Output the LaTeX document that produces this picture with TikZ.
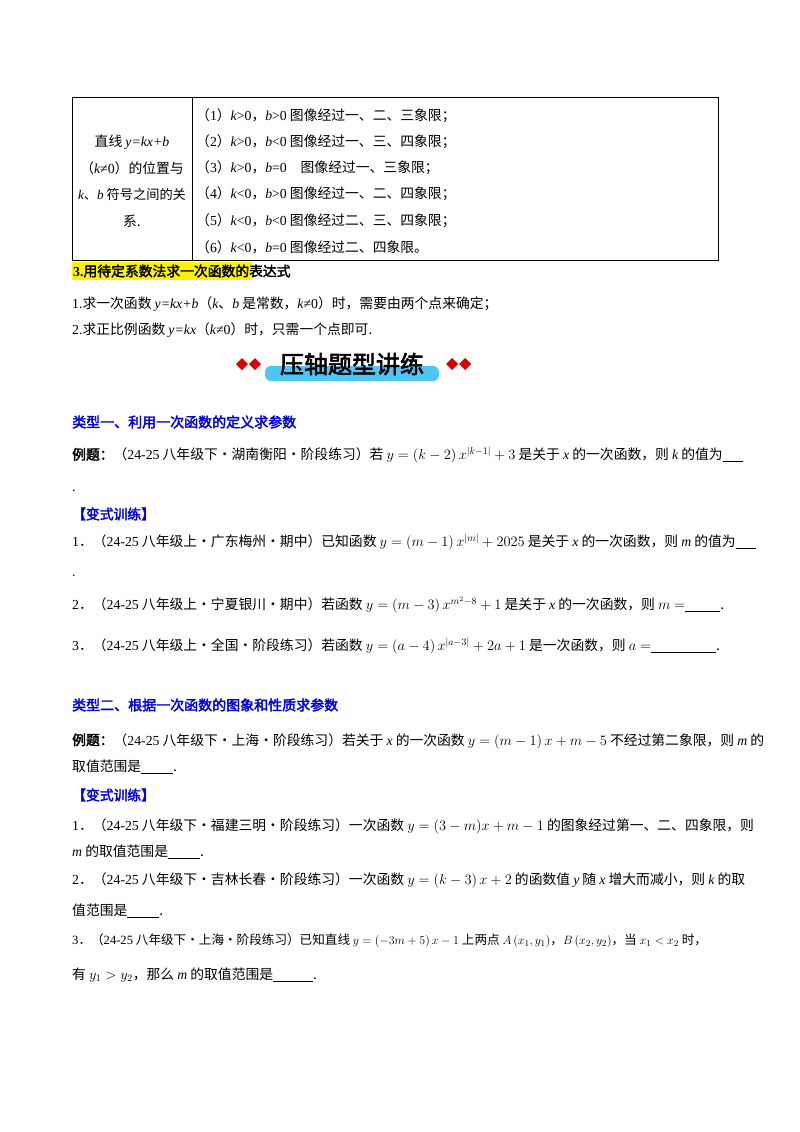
\documentclass[tikz,border=0pt]{standalone}
\usepackage{fontspec}
\setmainfont{Noto Sans CJK SC}[AutoFakeBold=2.5]
\newfontfamily\lib{Liberation Serif}
\newcommand{\Li}[1]{{\lib\itshape #1}}
\newcommand{\Ln}[1]{{\lib #1}}
\newcommand{\blank}[1]{\underline{\hspace{#1}}}
\begin{document}
\begin{tikzpicture}[x=1pt,y=-1pt,
  t/.style={anchor=west,inner sep=0pt,font=\fontsize{13.8}{15}\selectfont},
  c/.style={anchor=center,inner sep=0pt,font=\fontsize{13.8}{15}\selectfont},
  hd/.style={t,text=blue!85!black,font=\fontsize{14}{15}\selectfont\bfseries},
  vs/.style={t,text=blue!85!black,font=\fontsize{13.8}{15}\selectfont\bfseries}]
\useasboundingbox (0,0) rectangle (800,1132);
\fill[white] (0,0) rectangle (800,1132);
% table
\draw[line width=0.8pt] (72,97) rectangle (718,260);
\draw[line width=0.8pt] (192,97) -- (192,260);
\node[c] (l1) at (132,142) {直线 \Li{y=kx+b}};
\node[c] (l2) at (132,168) {（\Li{k}\Ln{≠0}）的位置与};
\node[c,font=\fontsize{13.2}{15}\selectfont] (l3) at (132,194) {\Li{k}、\Li{b} 符号之间的关};
\node[c] (l4) at (132,221) {系.};
\node[t] (r1) at (196,116) {（\Ln1）\Li{k}\Ln{>0}，\Li{b}\Ln{>0} 图像经过一、二、三象限；};
\node[t] (r2) at (196,142) {（\Ln2）\Li{k}\Ln{>0}，\Li{b}\Ln{<0} 图像经过一、三、四象限；};
\node[t] (r3) at (196,168) {（\Ln3）\Li{k}\Ln{>0}，\Li{b}\Ln{=0}\quad 图像经过一、三象限；};
\node[t] (r4) at (196,194) {（\Ln4）\Li{k}\Ln{<0}，\Li{b}\Ln{>0} 图像经过一、二、四象限；};
\node[t] (r5) at (196,221) {（\Ln5）\Li{k}\Ln{<0}，\Li{b}\Ln{<0} 图像经过二、三、四象限；};
\node[t] (r6) at (196,247) {（\Ln6）\Li{k}\Ln{<0}，\Li{b}\Ln{=0} 图像经过二、四象限。};
% heading 3
\fill[yellow] (72,262) rectangle (252,280);
\node[t,font=\fontsize{13.8}{15}\selectfont\bfseries] (h3) at (73,271) {\Ln{3.}用待定系数法求一次函数的表达式};
\node[t] (p1) at (72,304) {\Ln{1.}求一次函数 \Li{y=kx+b}（\Li{k}、\Li{b} 是常数，\Li{k}\Ln{≠0}）时，需要由两个点来确定；};
\node[t] (p2) at (72,330) {\Ln{2.}求正比例函数 \Li{y=kx}（\Li{k}\Ln{≠0}）时，只需一个点即可.};
% banner
\fill[cyan!70!white, rounded corners=6pt] (265,366) rectangle (439,381);
\node[c,font=\fontsize{24}{26}\selectfont\bfseries] (ban) at (352,364) {压轴题型讲练};
\foreach \cx in {242,255,452,465}{\fill[red!85!black] (\cx-6,364) -- (\cx,358) -- (\cx+6,364) -- (\cx,370) -- cycle;}
% type 1
\node[hd] (t1) at (72,422) {类型一、利用一次函数的定义求参数};
\node[t] (e1) at (72,455) {\textbf{例题：}（\Ln{24-25} 八年级下·湖南衡阳·阶段练习）若 $y=\left(k-2\right)x^{|k-1|}+3$ 是关于 \Li{x} 的一次函数，则 \Li{k} 的值为\blank{20pt}};
\node[t] (d1) at (72,491) {\Ln{.}};
\node[vs] (v1) at (72,514) {【变式训练】};
\node[t] (q1) at (72,542) {\Ln{1}．（\Ln{24-25} 八年级上·广东梅州·期中）已知函数 $y=\left(m-1\right)x^{|m|}+2025$ 是关于 \Li{x} 的一次函数，则 \Li{m} 的值为\blank{20pt}};
\node[t] (d2) at (72,576) {\Ln{.}};
\node[t] (q2) at (72,605) {\Ln{2}．（\Ln{24-25} 八年级上·宁夏银川·期中）若函数 $y=\left(m-3\right)x^{m^2-8}+1$ 是关于 \Li{x} 的一次函数，则 $m=$\blank{35pt}.};
\node[t] (q3) at (72,646) {\Ln{3}．（\Ln{24-25} 八年级上·全国·阶段练习）若函数 $y=\left(a-4\right)x^{|a-3|}+2a+1$ 是一次函数，则 $a=$\blank{65pt}.};
% type 2
\node[hd] (t2) at (72,705) {类型二、根据一次函数的图象和性质求参数};
\node[t] (e2) at (72,741) {\textbf{例题：}（\Ln{24-25} 八年级下·上海·阶段练习）若关于 \Li{x} 的一次函数 $y=\left(m-1\right)x+m-5$ 不经过第二象限，则 \Li{m} 的};
\node[t] (e2b) at (72,767) {取值范围是\blank{32pt}.};
\node[vs] (v2) at (72,795) {【变式训练】};
\node[t] (s1) at (72,826) {\Ln{1}．（\Ln{24-25} 八年级下·福建三明·阶段练习）一次函数 $y=(3-m)x+m-1$ 的图象经过第一、二、四象限，则};
\node[t] (s1b) at (72,852) {\Li{m} 的取值范围是\blank{32pt}.};
\node[t] (s2) at (72,880) {\Ln{2}．（\Ln{24-25} 八年级下·吉林长春·阶段练习）一次函数 $y=\left(k-3\right)x+2$ 的函数值 \Li{y} 随 \Li{x} 增大而减小，则 \Li{k} 的取};
\node[t] (s2b) at (72,911) {值范围是\blank{32pt}.};
\node[t,font=\fontsize{12.6}{15}\selectfont] (s3) at (72,941) {\Ln{3}．（\Ln{24-25} 八年级下·上海·阶段练习）已知直线 $y=\left(-3m+5\right)x-1$ 上两点 $A\left(x_1,y_1\right)$，$B\left(x_2,y_2\right)$，当 $x_1<x_2$ 时，};
\node[t] (s3b) at (72,975) {有 $y_1>y_2$，那么 \Li{m} 的取值范围是\blank{40pt}.};
\end{tikzpicture}
\end{document}
